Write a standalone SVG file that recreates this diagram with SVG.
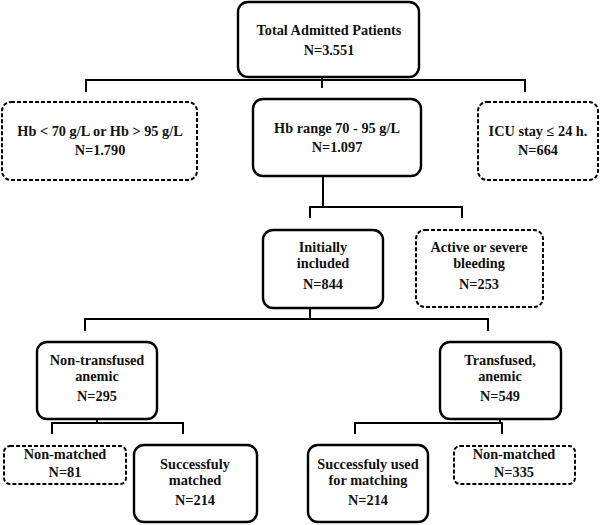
<svg xmlns="http://www.w3.org/2000/svg" width="600" height="525" viewBox="0 0 600 525">
<style>
.box{fill:#fff;stroke:#000;stroke-width:2.4}
.dash{fill:#fff;stroke:#000;stroke-width:2;stroke-dasharray:4 2}
.t{font-family:"Liberation Serif","Times New Roman",serif;font-weight:bold;font-size:14.3px;text-anchor:middle;fill:#111}
.c{fill:none;stroke:#000;stroke-width:2}
</style>
<rect width="600" height="525" fill="#fff"/>
<g id="connectors">
<path class="c" d="M322,77 V88 M86,92 V80 H525 V92"/>
<path class="c" d="M323,176 V207 M310,218 V207 H462 V218"/>
<path class="c" d="M310,308 V319 M85,331 V319 H488 V331"/>
<path class="c" d="M97,419 V423 M52,434 V423 H183 V434"/>
<path class="c" d="M500,419 V423 M355,434 V423 H502 V434"/>
</g>
<g id="total"><rect class="box" x="238" y="2" width="181" height="75" rx="10"/>
<text class="t" x="329" y="35">Total Admitted Patients</text><text class="t" x="329" y="55">N=3.551</text></g>
<g id="hb-out"><rect class="dash" x="2" y="102" width="195" height="78" rx="9"/>
<text class="t" x="100" y="136">Hb &lt; 70 g/L or Hb &gt; 95 g/L</text><text class="t" x="100" y="155">N=1.790</text></g>
<g id="hb-range"><rect class="box" x="253" y="99" width="168" height="77" rx="10"/>
<text class="t" x="337" y="133">Hb range 70 - 95 g/L</text><text class="t" x="337" y="152">N=1.097</text></g>
<g id="icu"><rect class="dash" x="478" y="102" width="120" height="78" rx="9"/>
<text class="t" x="538" y="136">ICU stay ≤ 24 h.</text><text class="t" x="538" y="155">N=664</text></g>
<g id="initially"><rect class="box" x="263" y="230" width="120" height="78" rx="10"/>
<text class="t" x="323" y="252">Initially</text><text class="t" x="323" y="268">included</text><text class="t" x="323" y="289">N=844</text></g>
<g id="bleeding"><rect class="dash" x="416" y="230" width="127" height="77" rx="9"/>
<text class="t" x="479" y="252">Active or severe</text><text class="t" x="479" y="268">bleeding</text><text class="t" x="479" y="289">N=253</text></g>
<g id="non-transfused"><rect class="box" x="37" y="342" width="120" height="77" rx="10"/>
<text class="t" x="97" y="365">Non-transfused</text><text class="t" x="97" y="381">anemic</text><text class="t" x="97" y="401">N=295</text></g>
<g id="transfused"><rect class="box" x="440" y="342" width="121" height="77" rx="10"/>
<text class="t" x="500" y="365">Transfused,</text><text class="t" x="500" y="381">anemic</text><text class="t" x="500" y="401">N=549</text></g>
<g id="nonmatched-left"><rect class="dash" x="4" y="446" width="122" height="38" rx="6"/>
<text class="t" x="65" y="459">Non-matched</text><text class="t" x="65" y="477">N=81</text></g>
<g id="matched"><rect class="box" x="134" y="445" width="123" height="77" rx="10"/>
<text class="t" x="195" y="469">Successfuly</text><text class="t" x="195" y="485">matched</text><text class="t" x="195" y="505">N=214</text></g>
<g id="used"><rect class="box" x="308" y="445" width="120" height="77" rx="10"/>
<text class="t" x="368" y="469">Successfuly used</text><text class="t" x="368" y="485">for matching</text><text class="t" x="368" y="505">N=214</text></g>
<g id="nonmatched-right"><rect class="dash" x="454" y="446" width="121" height="38" rx="6"/>
<text class="t" x="514" y="459">Non-matched</text><text class="t" x="514" y="477">N=335</text></g>
</svg>
